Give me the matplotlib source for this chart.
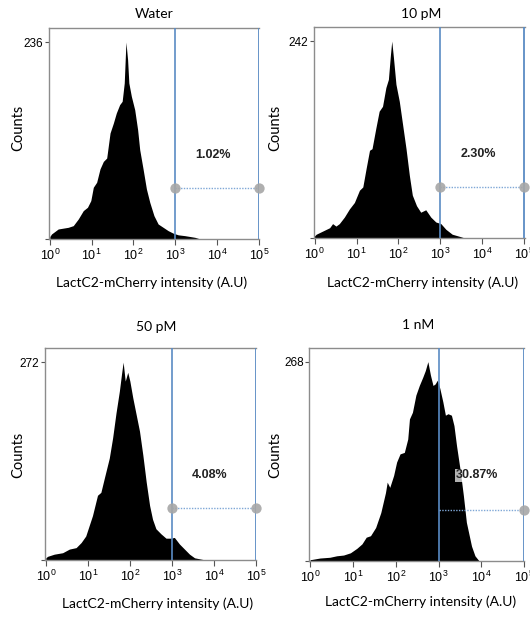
import numpy as np
import matplotlib
matplotlib.use("Agg")
import matplotlib.pyplot as plt

# log10(intensity) outline points and counts
water_logx = [0.00, 0.04, 0.20, 0.44, 0.56, 0.68, 0.80, 0.90, 0.98, 1.04, 1.12, 1.20, 1.28, 1.36,
              1.44, 1.52, 1.59, 1.67, 1.73, 1.78, 1.82, 1.86, 1.89, 1.95, 2.03, 2.10, 2.15, 2.23,
              2.31, 2.39, 2.49, 2.59, 2.71, 2.83, 2.95, 3.07, 3.23, 3.47, 3.60]
water_counts = [3, 6, 12, 14, 16, 24, 34, 38, 46, 62, 68, 84, 93, 97,
                127, 139, 151, 161, 165, 187, 236, 215, 187, 171, 155, 131, 107, 84,
                60, 44, 28, 18, 14, 10, 7, 5, 4, 2, 0]

pm10_logx = [0.00, 0.04, 0.20, 0.36, 0.43, 0.51, 0.59, 0.71, 0.83, 0.95, 1.07, 1.15, 1.23, 1.31,
             1.37, 1.46, 1.54, 1.62, 1.70, 1.76, 1.81, 1.84, 1.88, 1.94, 2.02, 2.10, 2.18, 2.26,
             2.33, 2.43, 2.53, 2.65, 2.77, 2.89, 3.01, 3.13, 3.28, 3.48, 3.60]
pm10_counts = [3, 5, 9, 13, 18, 15, 18, 26, 36, 44, 59, 63, 86, 108,
               110, 135, 156, 162, 185, 195, 226, 242, 222, 189, 168, 139, 110, 77,
               53, 40, 32, 35, 26, 20, 18, 11, 5, 2, 0]

pm50_logx = [0.00, 0.04, 0.20, 0.40, 0.56, 0.72, 0.84, 0.95, 1.03, 1.11, 1.23, 1.31, 1.39, 1.51,
             1.59, 1.67, 1.75, 1.80, 1.84, 1.89, 1.95, 2.00, 2.07, 2.15, 2.23, 2.31, 2.39, 2.47,
             2.54, 2.62, 2.74, 2.86, 2.97, 3.06, 3.18, 3.30, 3.42, 3.54, 3.80]
pm50_counts = [3, 5, 8, 10, 15, 17, 24, 33, 47, 61, 89, 93, 112, 140,
               168, 202, 232, 255, 272, 246, 258, 246, 223, 200, 177, 144, 107, 75,
               56, 43, 36, 30, 30, 31, 22, 15, 8, 3, 0]

nm1_logx = [0.00, 0.03, 0.23, 0.46, 0.62, 0.78, 0.94, 1.09, 1.21, 1.31, 1.41, 1.53, 1.65, 1.76,
            1.80, 1.86, 1.95, 2.02, 2.10, 2.20, 2.28, 2.32, 2.39, 2.47, 2.55, 2.63, 2.69, 2.75,
            2.81, 2.87, 2.92, 2.97, 3.03, 3.10, 3.16, 3.22, 3.30, 3.36, 3.42, 3.50, 3.58, 3.65,
            3.77, 3.85, 3.92, 3.95]
nm1_counts = [2, 2, 4, 5, 7, 8, 11, 17, 23, 32, 34, 45, 65, 92,
              106, 99, 115, 133, 144, 146, 164, 191, 200, 223, 236, 247, 256, 268,
              250, 236, 238, 243, 232, 214, 196, 198, 196, 182, 155, 124, 88, 52,
              20, 7, 2, 0]

titles = ["Water", "10 pM", "50 pM", "1 nM"]
peaks = [236, 242, 272, 268]
percents = ["1.02%", "2.30%", "4.08%", "30.87%"]
gate_counts = [61, 63, 71, 69]
text_counts = [101, 104, 117, 115]
xtick_labels = [r"$\mathregular{10^{%d}}$" % k for k in range(6)]

panels = [(water_logx, water_counts), (pm10_logx, pm10_counts),
          (pm50_logx, pm50_counts), (nm1_logx, nm1_counts)]

W, H = 530, 619
# axes boxes in pixels: left, right, top, bottom
boxes = [(49, 259, 28.3, 239), (313.7, 524.5, 27.3, 238.3),
         (45, 256, 348.3, 560), (309.3, 524.3, 347.7, 561)]
title_pos = [(154, 14), (421, 14), (156, 327), (418, 325)]
xlabel_pos = [(152, 283), (423, 283), (158, 604), (421, 602)]
ylabel_pos = [(18, 128), (275, 128), (18, 455), (275, 455)]

label_font = "Lato"
blue = "#5a8bc4"
spine_gray = "#8c8c8c"

fig = plt.figure(figsize=(W / 100, H / 100), dpi=100)

for i, ((lx, cnt), (l, r, t, b)) in enumerate(zip(panels, boxes)):
    ax = fig.add_axes([l / W, 1 - b / H, (r - l) / W, (b - t) / H])
    ax.set_xscale("log")
    x = 10 ** np.array(lx)
    ax.fill_between(x, cnt, 0, color="black", lw=0, zorder=2)
    ax.set_xlim(10 ** -0.02, 10 ** 5.003)
    ax.set_ylim(0, peaks[i] * 1.07)

    ax.set_xticks([10 ** k for k in range(6)])
    ax.set_xticklabels(xtick_labels)
    ax.set_yticks([0, peaks[i]])
    ax.set_yticklabels(["", str(peaks[i])])
    ax.tick_params(axis="x", which="major", length=4, width=0.8, color="#555555",
                   labelsize=9, pad=2)
    ax.tick_params(axis="x", which="minor", length=2.5, width=0.7, color="#555555")
    ax.tick_params(axis="y", length=3, width=0.8, color="#555555", labelsize=8.5, pad=1)
    for lab in ax.get_xticklabels() + ax.get_yticklabels():
        lab.set_fontfamily("Liberation Sans")
    for sp in ax.spines.values():
        sp.set_color(spine_gray)
        sp.set_linewidth(1.0)
    ax.spines["right"].set_visible(False)

    # gate
    gy = gate_counts[i]
    ax.axvline(1e3, color=blue, lw=1.2, zorder=4)
    ax.axvline(1e5, color=blue, lw=1.3, zorder=4)
    ax.plot([1e3, 1e5], [gy, gy], ls=(0, (1, 1)), color="#7fa7d6", lw=1.0, zorder=4)
    ax.scatter([1e3], [gy], s=55, color="#a6a6a6", alpha=0.9, lw=0,
               zorder=1 if i == 3 else 5, clip_on=False)
    ax.scatter([1e5], [gy], s=55, color="#a6a6a6", alpha=0.9, lw=0, zorder=5, clip_on=False)

    bbox = None
    if i == 3:
        bbox = dict(facecolor="white", alpha=0.7, edgecolor="none", pad=0.5)
    ax.text(10 ** 3.9, text_counts[i], percents[i], ha="center", va="center",
            fontsize=9, fontweight="bold", family="Liberation Sans", color="#222222",
            bbox=bbox, zorder=6)

    tx, ty = title_pos[i]
    fig.text(tx / W, 1 - ty / H, titles[i], ha="center", va="center",
             fontsize=10, family=label_font)
    xx, xy = xlabel_pos[i]
    fig.text(xx / W, 1 - xy / H, "LactC2-mCherry intensity (A.U)", ha="center", va="center",
             fontsize=10, family=label_font)
    yx, yy = ylabel_pos[i]
    fig.text(yx / W, 1 - yy / H, "Counts", ha="center", va="center", rotation=90,
             fontsize=10.5, family=label_font)

fig.savefig("out.png", dpi=100)
